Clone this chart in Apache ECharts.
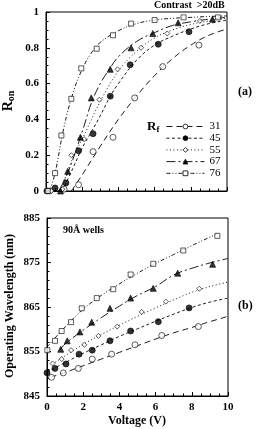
<!DOCTYPE html>
<html>
<head>
<meta charset="utf-8">
<script src="https://cdn.jsdelivr.net/npm/echarts@6/dist/echarts.min.js"></script>
<style>
  html, body { margin: 0; padding: 0; background: #fff; }
  #chart-container { width: 259px; height: 429px; }
</style>
</head>
<body>
<div id="chart-container"></div>
<script>
// series names (R_f values)
var names = ["31", "45", "55", "67", "76"];

// (a) measured R_on points [voltage, R_on]
var ron31 = [[0.2, 0], [1.0, 0.01], [1.8, 0.035], [2.6, 0.22], [3.7, 0.30], [4.9, 0.52], [6.45, 0.695], [8.45, 0.815]];
var ron45 = [[0.05, 0], [0.5, 0.017], [1.1, 0.045], [1.8, 0.225], [2.6, 0.32], [3.55, 0.53], [4.65, 0.705], [6.2, 0.82], [7.9, 0.89]];
var ron55 = [[0.3, 0], [0.9, 0.01], [1.4, 0.2], [2.1, 0.29], [2.95, 0.51], [3.95, 0.68], [5.25, 0.80], [6.7, 0.88], [8.5, 0.95]];
var ron67 = [[0.8, 0], [1.2, 0.11], [1.9, 0.30], [2.5, 0.52], [3.55, 0.68], [4.7, 0.80], [5.9, 0.88], [7.3, 0.94], [9.2, 0.96]];
var ron76 = [[0.1, 0], [0.5, 0.1], [0.85, 0.31], [1.4, 0.515], [1.95, 0.685], [2.8, 0.795], [3.7, 0.87], [4.7, 0.935], [6.0, 0.955], [7.6, 0.97], [9.5, 0.97]];

// (a) fitted curves
var fitA31 = [[1.4, 0], [2, 0.09], [3, 0.25], [4, 0.40], [5, 0.53], [6, 0.645], [7, 0.74], [8, 0.815], [9, 0.87], [10, 0.905]];
var fitA45 = [[0.9, 0], [1.5, 0.13], [2, 0.24], [2.5, 0.33], [3, 0.42], [3.5, 0.52], [4, 0.60], [5, 0.73], [6, 0.815], [7, 0.865], [8, 0.905], [9, 0.935], [10, 0.955]];
var fitA55 = [[0.8, 0], [1.5, 0.19], [2, 0.29], [3, 0.50], [4, 0.67], [5, 0.78], [6, 0.855], [7, 0.90], [8, 0.93], [9, 0.95], [10, 0.965]];
var fitA67 = [[0.7, 0], [1.2, 0.1], [2, 0.33], [2.5, 0.49], [3, 0.60], [3.5, 0.68], [4, 0.75], [5, 0.835], [6, 0.885], [7, 0.925], [8, 0.945], [9, 0.96], [10, 0.97]];
var fitA76 = [[0.2, 0], [0.5, 0.1], [1, 0.36], [1.5, 0.55], [2, 0.68], [2.5, 0.77], [3, 0.83], [4, 0.895], [5, 0.935], [6, 0.955], [7, 0.965], [8, 0.97], [9, 0.975], [10, 0.978]];

// (b) measured operating wavelength [voltage, nm]
var wl31 = [[0.25, 849.2], [0.9, 850.2], [1.73, 851.2], [2.5, 853.3], [3.57, 854.4], [4.86, 856.5], [6.34, 858.6], [8.36, 860.6]];
var wl45 = [[0, 850.2], [0.44, 851.2], [1.05, 852.2], [1.77, 854.4], [2.5, 855.3], [3.48, 857.4], [4.62, 859.6], [6.15, 861.7], [7.85, 864.8]];
var wl55 = [[0.31, 852.3], [0.81, 853.3], [1.33, 855.3], [2.06, 856.5], [2.84, 858.5], [3.88, 860.6], [5.23, 863.9], [6.57, 866.2], [8.41, 869.1]];
var wl67 = [[0.76, 855.5], [1.12, 857.4], [1.82, 859.4], [2.47, 861.6], [3.48, 864.7], [4.62, 867.0], [5.87, 869.2], [7.22, 872.6], [9.15, 874.6]];
var wl76 = [[0.02, 855.3], [0.44, 857.4], [0.81, 859.6], [1.33, 861.6], [1.92, 864.7], [2.75, 867.0], [3.66, 869.0], [4.62, 872.3], [5.87, 874.7], [7.53, 877.7], [9.41, 881.0]];

// (b) fitted curves
var fitB31 = [[0.2, 849.2], [1, 850.3], [2, 851.8], [3, 853.3], [4, 854.8], [5, 856.3], [6, 857.8], [7, 859.2], [8, 860.4], [9, 861.7], [10, 862.9]];
var fitB45 = [[0, 850.4], [1, 852.5], [2, 854.6], [3, 856.5], [4, 858.4], [5, 860.1], [6, 861.8], [7, 863.4], [8, 864.9], [9, 866.1], [10, 867.0]];
var fitB55 = [[0.3, 852.2], [1, 854.0], [2, 856.6], [3, 858.8], [4, 860.9], [5, 862.9], [6, 864.8], [7, 866.6], [8, 868.3], [9, 869.6], [10, 870.6]];
var fitB67 = [[0.75, 855.5], [1, 856.7], [2, 859.8], [3, 862.6], [4, 865.2], [5, 867.6], [6, 869.6], [7, 872.2], [8, 873.7], [9, 874.9], [10, 875.9]];
var fitB76 = [[0, 856.0], [1, 860.5], [2, 864.5], [3, 867.6], [4, 870.2], [5, 872.6], [6, 874.8], [7, 876.8], [8, 878.8], [9, 880.7], [9.4, 881.5]];

var pointsA = [ron31, ron45, ron55, ron67, ron76];
var fitsA = [fitA31, fitA45, fitA55, fitA67, fitA76];
var pointsB = [wl31, wl45, wl55, wl67, wl76];
var fitsB = [fitB31, fitB45, fitB55, fitB67, fitB76];

var symbols = ["circle", "circle", "diamond", "triangle", "rect"];
var fills = ["#fff", "#000", "#fff", "#000", "#fff"];
var sizes = [6, 6, 5, 6, 5];
var dashes = [[6, 4], [3, 2.5], [1, 2.5], [9, 3, 2, 3], [4, 2, 1, 2, 1, 2]];

var serif = "'Liberation Serif', 'DejaVu Serif', serif";

var dom = document.getElementById("chart-container");
var myChart = echarts.init(dom, null, { renderer: "canvas" });

var series = [];
for (var i = 0; i < names.length; i++) {
  var st = {
    color: fills[i],
    borderColor: "#000",
    borderWidth: 0.8
  };
  var ls = { color: "#000", width: 0.9, type: dashes[i] };
  // fit lines (carry the legend entry)
  series.push({
    name: names[i],
    type: "line",
    xAxisIndex: 0, yAxisIndex: 0,
    data: fitsA[i],
    smooth: 0.4,
    showSymbol: false,
    symbol: symbols[i],
    itemStyle: st,
    lineStyle: ls,
    z: 2,
    silent: true
  });
  series.push({
    name: "pa" + names[i],
    type: "scatter",
    xAxisIndex: 0, yAxisIndex: 0,
    data: pointsA[i],
    symbol: symbols[i],
    symbolSize: sizes[i],
    itemStyle: st,
    z: 3
  });
  series.push({
    name: "fb" + names[i],
    type: "line",
    xAxisIndex: 1, yAxisIndex: 1,
    data: fitsB[i],
    smooth: 0.4,
    showSymbol: false,
    lineStyle: ls,
    z: 2,
    silent: true
  });
  series.push({
    name: "pb" + names[i],
    type: "scatter",
    xAxisIndex: 1, yAxisIndex: 1,
    data: pointsB[i],
    symbol: symbols[i],
    symbolSize: sizes[i],
    itemStyle: st,
    z: 3
  });
}

var option = {
  animation: false,
  textStyle: { fontFamily: serif },
  grid: [
    { left: 46, top: 12, width: 181, height: 179, show: true, borderColor: "#000", borderWidth: 1, containLabel: false },
    { left: 47, top: 218, width: 181, height: 178, show: true, borderColor: "#000", borderWidth: 1, containLabel: false }
  ],
  legend: {
    data: names,
    orient: "vertical",
    left: 166,
    top: 121,
    padding: 0,
    itemWidth: 38,
    itemHeight: 6,
    itemGap: 0.7,
    textStyle: { fontFamily: serif, fontSize: 11, lineHeight: 10, color: "#000" },
    itemStyle: { borderWidth: 0.8, borderColor: "#000" },
    lineStyle: { width: 0.9 },
    selectedMode: false
  },
  xAxis: [
    {
      gridIndex: 0, type: "value", min: 0, max: 10, interval: 2,
      axisLine: { lineStyle: { color: "#000" } },
      axisTick: { inside: true, length: 4, lineStyle: { color: "#000" } },
      minorTick: { show: true, splitNumber: 4, length: 2.5, lineStyle: { color: "#000" } },
      axisLabel: { show: false },
      splitLine: { show: false }
    },
    {
      gridIndex: 1, type: "value", min: 0, max: 10, interval: 2,
      axisLine: { lineStyle: { color: "#000" } },
      axisTick: { inside: true, length: 4, lineStyle: { color: "#000" } },
      minorTick: { show: true, splitNumber: 4, length: 2.5, lineStyle: { color: "#000" } },
      axisLabel: { color: "#000", fontSize: 11, fontWeight: "bold", fontFamily: serif, margin: 6 },
      splitLine: { show: false }
    }
  ],
  yAxis: [
    {
      gridIndex: 0, type: "value", min: 0, max: 1, interval: 0.2,
      axisLine: { show: true, lineStyle: { color: "#000" } },
      axisTick: { show: true, inside: true, length: 4, lineStyle: { color: "#000" } },
      minorTick: { show: true, splitNumber: 4, length: 2.5, lineStyle: { color: "#000" } },
      axisLabel: { color: "#000", fontSize: 11, fontWeight: "bold", fontFamily: serif, margin: 7 },
      splitLine: { show: false }
    },
    {
      gridIndex: 1, type: "value", min: 845, max: 885, interval: 10,
      axisLine: { show: true, lineStyle: { color: "#000" } },
      axisTick: { show: true, inside: true, length: 4, lineStyle: { color: "#000" } },
      minorTick: { show: true, splitNumber: 5, length: 2.5, lineStyle: { color: "#000" } },
      axisLabel: { color: "#000", fontSize: 11, fontWeight: "bold", fontFamily: serif, margin: 7 },
      splitLine: { show: false }
    }
  ],
  graphic: [
    {
      type: "text", left: 154, top: 0,
      style: { text: "Contrast  >20dB", font: "bold 10px " + serif, fill: "#000" }
    },
    {
      type: "text", x: 8, y: 101, rotation: Math.PI / 2, originX: 0, originY: 0,
      style: {
        text: "{r|R}{s|on}", fill: "#000", align: "center", verticalAlign: "middle",
        rich: {
          r: { font: "bold 14px " + serif, fill: "#000" },
          s: { font: "bold 10px " + serif, fill: "#000", padding: [6, 0, 0, 0] }
        }
      }
    },
    {
      type: "text", left: 238, top: 86,
      style: { text: "(a)", font: "bold 12px " + serif, fill: "#000" }
    },
    {
      type: "text", left: 147, top: 120,
      style: {
        text: "{r|R}{s|f}", fill: "#000",
        rich: {
          r: { font: "bold 13px " + serif, fill: "#000" },
          s: { font: "bold 9px " + serif, fill: "#000", padding: [7, 0, 0, 0] }
        }
      }
    },
    {
      type: "text", left: 63, top: 225,
      style: { text: "90Å wells", font: "bold 10px " + serif, fill: "#000" }
    },
    {
      type: "text", left: 238, top: 300,
      style: { text: "(b)", font: "bold 12px " + serif, fill: "#000" }
    },
    {
      type: "text", x: 10, y: 306, rotation: Math.PI / 2,
      style: { text: "Operating Wavelength (nm)", font: "bold 12px " + serif, fill: "#000", align: "center", verticalAlign: "middle" }
    },
    {
      type: "text", x: 137, y: 421,
      style: { text: "Voltage (V)", font: "bold 12px " + serif, fill: "#000", align: "center", verticalAlign: "middle" }
    }
  ],
  series: series
};

if (option && typeof option === "object") {
  myChart.setOption(option);
}

window.addEventListener("resize", myChart.resize);
</script>
</body>
</html>
